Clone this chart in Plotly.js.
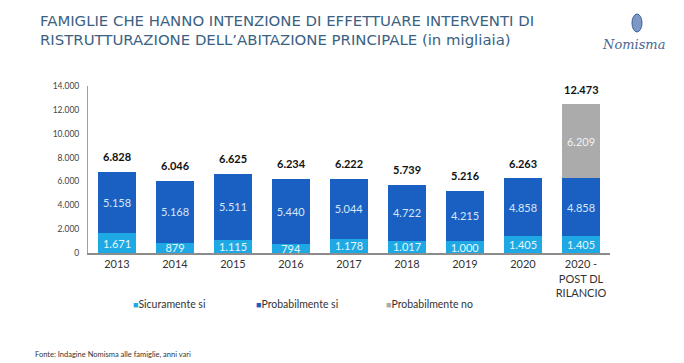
<!DOCTYPE html>
<html>
<head>
<meta charset="utf-8">
<script src="https://cdn.plot.ly/plotly-3.0.1.min.js"></script>
<style>html,body{margin:0;padding:0;background:#fff;}#chart{width:684px;height:363px;}</style>
</head>
<body>
<div id="chart"></div>
<script>
const categories = ['2013','2014','2015','2016','2017','2018','2019','2020','2020 -<br>POST DL<br>RILANCIO'];
const sicuramenteSi = [1671, 879, 1115, 794, 1178, 1017, 1000, 1405, 1405];
const probabilmenteSi = [5158, 5168, 5511, 5440, 5044, 4722, 4215, 4858, 4858];
const probabilmenteNo = [null, null, null, null, null, null, null, null, 6209];
const totals = [6828, 6046, 6625, 6234, 6222, 5739, 5216, 6263, 12473];
const seriesNames = ['Sicuramente si', 'Probabilmente si', 'Probabilmente no'];
const yTicks = [0, 2000, 4000, 6000, 8000, 10000, 12000, 14000];

const FONT = 'Lato, "Open Sans", sans-serif';
const colors = ['#1fa9e4', '#1a60c2', '#ababab'];
const textColors = ['#e8f6fd', '#d6e6f8', '#f2f2f2'];

function barTrace(vals, i) {
  return {
    type: 'bar', x: categories, y: vals, name: seriesNames[i],
    marker: {color: colors[i]},
    texttemplate: '%{y:,.0f}', textposition: 'inside', insidetextanchor: 'middle',
    textangle: 0, constraintext: 'none',
    textfont: {family: FONT, size: 11, color: textColors[i]},
    hoverinfo: 'y+name', showlegend: false
  };
}
const data = [barTrace(sicuramenteSi, 0), barTrace(probabilmenteSi, 1), barTrace(probabilmenteNo, 2)];

const fmt = v => v.toString().replace(/\B(?=(\d{3})+(?!\d))/g, '.');
const annotations = categories.map((c, i) => ({
  x: i, y: totals[i], xref: 'x', yref: 'y', text: '<b>' + fmt(totals[i]) + '</b>',
  showarrow: false, yanchor: 'middle', yshift: 15,
  font: {family: FONT, size: 11, color: '#111'}
}));
// custom legend
const legendX = [131, 254, 384];
seriesNames.forEach((n, i) => {
  annotations.push({
    xref: 'paper', yref: 'paper', x: (legendX[i] - 88) / 522, y: -(304 - 253) / 167,
    xanchor: 'left', yanchor: 'middle', showarrow: false,
    text: '<span style="color:' + colors[i] + ';font-size:9px">■</span>' + n,
    font: {family: FONT, size: 10.5, color: '#333'}
  });
});
annotations.push({
  xref: 'paper', yref: 'paper', x: (33 - 88) / 522, y: -(354 - 253) / 167,
  xanchor: 'left', yanchor: 'middle', showarrow: false,
  text: 'Fonte: Indagine Nomisma alle famiglie, anni vari',
  font: {family: FONT, size: 7.5, color: '#333'}
});
annotations.push({
  xref: 'paper', yref: 'paper', x: (633 - 88) / 522, y: (253 - 45) / 167,
  xanchor: 'center', yanchor: 'middle', showarrow: false,
  text: '<i>Nomisma</i>',
  font: {family: '"DejaVu Serif", "Liberation Serif", serif', size: 13, color: '#4a6694'}
});

const layout = {
  width: 684, height: 363,
  margin: {l: 88, r: 74, t: 86, b: 110, pad: 0},
  paper_bgcolor: '#ffffff', plot_bgcolor: '#ffffff',
  separators: ',.',
  barmode: 'stack', bargap: 0.34,
  showlegend: false,
  font: {family: FONT, color: '#333'},
  title: {
    text: 'FAMIGLIE CHE HANNO INTENZIONE DI EFFETTUARE INTERVENTI DI<br>RISTRUTTURAZIONE DELL’ABITAZIONE PRINCIPALE (in migliaia)',
    x: 40 / 684, xanchor: 'left', xref: 'container',
    y: 1 - 26 / 363, yanchor: 'top', yref: 'container',
    font: {family: '"DejaVu Sans", sans-serif', size: 14.9, color: '#3b6182'}
  },
  xaxis: {
    type: 'category', range: [-0.5, 8.5], autorange: false,
    showline: true, linecolor: '#8c8c8c', linewidth: 2,
    showgrid: false, zeroline: false, ticks: '',
    tickfont: {family: FONT, size: 11, color: '#333'}
  },
  yaxis: {
    range: [0, 14000], autorange: false, tickvals: yTicks, tickformat: ',.0f',
    showline: true, linecolor: '#a0a0a0', linewidth: 1,
    showgrid: false, zeroline: false, ticks: '', ticklabelstandoff: 6,
    tickfont: {family: FONT, size: 8.5, color: '#444'}
  },
  shapes: [{
    type: 'circle', xref: 'paper', yref: 'paper',
    x0: (632 - 88) / 522, x1: (642 - 88) / 522, y0: (253 - 32) / 167, y1: (253 - 14) / 167,
    fillcolor: '#7d98c6', line: {color: '#3e5f97', width: 1}
  }],
  annotations: annotations
};
Plotly.newPlot('chart', data, layout, {displayModeBar: false, staticPlot: true});
</script>
</body>
</html>
